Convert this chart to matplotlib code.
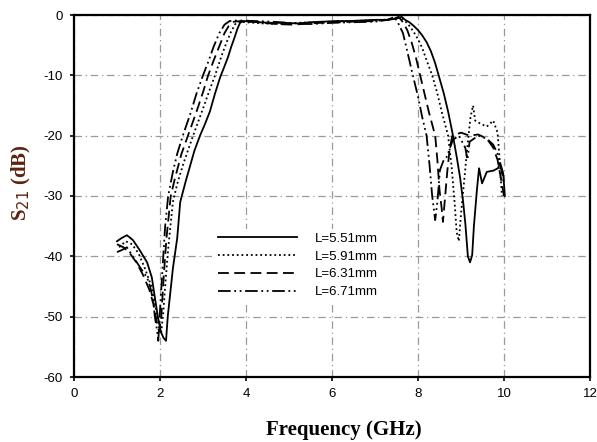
import numpy as np
import matplotlib
matplotlib.use("Agg")
import matplotlib.pyplot as plt

plt.rcParams["axes.unicode_minus"] = False

# S21 curves, one per stub length L
labels = ["L=5.51mm", "L=5.91mm", "L=6.31mm", "L=6.71mm"]

f_551 = [1.0, 1.1, 1.23, 1.37, 1.53, 1.7, 1.81, 1.88, 1.95, 2.02, 2.08, 2.14, 2.18, 2.24, 2.3,
         2.4, 2.47, 2.6, 2.7, 2.8, 2.93, 3.05, 3.16, 3.28, 3.4, 3.5, 3.58, 3.66, 3.74, 3.8, 3.86,
         3.95, 4.1, 4.3, 4.6, 4.9, 5.2, 5.5, 5.8, 6.1, 6.4, 6.7, 7.0, 7.3, 7.5, 7.62, 7.7, 7.8,
         7.9, 8.0, 8.1, 8.2, 8.3, 8.4, 8.5, 8.6, 8.7, 8.8, 8.9, 8.98, 9.05, 9.1, 9.16, 9.21, 9.26,
         9.3, 9.37, 9.42, 9.49, 9.6, 9.75, 9.86, 9.91, 9.98, 10.02]
s_551 = [-37.5, -37, -36.5, -37.3, -39, -41, -43.5, -46.8, -50, -52.5, -53.5, -54, -50, -46, -42,
         -37, -31, -27.5, -25, -22.5, -20, -18, -16, -13, -10.3, -8.5, -7, -5.2, -3.6, -2.3, -1.3,
         -1.0, -1.1, -1.2, -1.3, -1.3, -1.4, -1.2, -1.1, -1.0, -1.0, -0.9, -0.8, -0.8, -0.6, -0.3,
         -0.8, -1.2, -1.8, -2.5, -3.4, -4.5, -6, -8, -10.5, -13, -16, -19.5, -23.5, -27, -31,
         -34.5, -40, -41, -39.8, -35, -29, -25.4, -27.9, -26, -25.8, -25.4, -24.5, -26.2, -30]

f_591 = [1.05, 1.2, 1.35, 1.5, 1.65, 1.8, 1.9, 1.97, 2.03, 2.08, 2.13, 2.2, 2.3, 2.4, 2.55, 2.77,
         3.0, 3.15, 3.28, 3.42, 3.55, 3.65, 3.75, 3.85, 4.0, 4.4, 4.8, 5.2, 5.6, 6.0, 6.5, 7.0,
         7.4, 7.6, 7.7, 7.8, 7.9, 8.0, 8.1, 8.2, 8.33, 8.45, 8.55, 8.7, 8.78, 8.85, 8.9, 8.95,
         9.0, 9.08, 9.16, 9.22, 9.28, 9.33, 9.45, 9.6, 9.75, 9.85, 9.9, 9.95]
s_591 = [-38.5, -37.5, -38, -39.5, -42, -45, -48.5, -51, -52.5, -49, -44, -38, -31, -28, -24.5,
         -20, -15.5, -12.5, -10, -7, -4.5, -2.8, -1.5, -1.1, -1.2, -1.4, -1.5, -1.3, -1.2, -1.1,
         -1.0, -0.9, -0.7, -0.4, -1.0, -1.8, -2.8, -4, -5.5, -7.5, -10, -13, -16, -20, -25, -31,
         -36, -37.5, -33, -27, -21, -17, -15, -17.5, -18, -18.5, -17.5, -19.5, -24, -30]

f_631 = [1.0, 1.15, 1.3, 1.45, 1.6, 1.75, 1.85, 1.93, 1.98, 2.03, 2.08, 2.15, 2.25, 2.35, 2.5,
         2.65, 2.85, 3.0, 3.12, 3.25, 3.4, 3.5, 3.6, 3.72, 3.9, 4.3, 4.7, 5.1, 5.5, 6.0, 6.5,
         7.0, 7.4, 7.55, 7.65, 7.75, 7.85, 7.95, 8.05, 8.15, 8.25, 8.4, 8.45, 8.5, 8.55, 8.58,
         8.62, 8.68, 8.74, 8.8, 9.0, 9.2, 9.4, 9.6, 9.75, 9.85, 9.95, 10.0]
s_631 = [-38, -38.5, -39.5, -41, -43, -45.5, -48, -51, -52.5, -50, -44, -37, -30, -27, -23,
         -20, -16, -12.8, -10, -7.5, -4.8, -3, -1.8, -1.1, -1.0, -1.2, -1.5, -1.6, -1.4, -1.2,
         -1.1, -1.0, -0.7, -0.3, -1.2, -2.5, -4.5, -7, -10, -13, -16, -20, -24, -29, -32, -34.3,
         -31, -26, -22, -20, -19.5, -20, -19.8, -20.5, -22, -24, -28, -30]

f_671 = [1.0, 1.1, 1.23, 1.37, 1.58, 1.7, 1.77, 1.84, 1.88, 1.93, 1.96, 2.0, 2.05, 2.12, 2.19,
         2.3, 2.4, 2.53, 2.7, 2.85, 3.0, 3.12, 3.25, 3.38, 3.5, 3.62, 3.8, 4.2, 4.6, 5.0, 5.5,
         6.0, 6.5, 7.0, 7.3, 7.45, 7.55, 7.65, 7.75, 7.88, 8.0, 8.1, 8.2, 8.27, 8.33, 8.4, 8.45,
         8.51, 8.6, 8.67, 8.81, 8.95, 9.1, 9.15, 9.2, 9.4, 9.6, 9.75, 9.85, 9.95, 10.0]
s_671 = [-39.3, -39, -38.5, -40, -42.3, -43.5, -45, -47.3, -50, -52.2, -54, -49, -43, -35, -30,
         -26, -23, -20, -16.5, -13, -10, -7.8, -5.2, -3, -1.6, -1.0, -0.9, -1.0, -1.1, -1.3,
         -1.5, -1.3, -1.2, -1.1, -0.8, -0.3, -1.5, -3, -6, -10, -13.5, -17, -20, -25, -30, -34,
         -31, -25.7, -24, -23.5, -20.7, -20, -22, -24, -21, -20, -20.5, -21.5, -23, -26, -28]

freqs = [f_551, f_591, f_631, f_671]
s21 = [s_551, s_591, s_631, s_671]
styles = ["-", (0, (1, 1.6)), (0, (6, 3)), (0, (7, 2, 1, 2, 1, 2))]

fig = plt.figure(figsize=(5.97, 4.42), dpi=100)
ax = fig.add_axes([74 / 597, 1 - 377 / 442, 516 / 597, 362 / 442])

for f, s, ls, lab in zip(freqs, s21, styles, labels):
    ax.plot(f, s, color="black", linestyle=ls, linewidth=1.3, label=lab)

ax.set_xlim(0, 12)
ax.set_ylim(-60, 0)
ax.set_xticks(np.arange(0, 13, 2))
ax.set_yticks(np.arange(-60, 1, 10))
ax.grid(True, color="#9a9a9a", linestyle=(0, (6, 3, 1, 3)), linewidth=0.9)
ax.set_axisbelow(True)
for sp in ax.spines.values():
    sp.set_linewidth(1.6)
ax.tick_params(direction="out", length=3, width=1.2, pad=5, labelsize=9.5,
               labelfontfamily="Liberation Sans")

ax.set_xlabel("Frequency (GHz)", family="Liberation Serif", fontweight="bold", fontsize=15)
ax.xaxis.set_label_coords(0.523, -0.12)
ax.set_ylabel("S$_{21}$ (dB)", family="Liberation Serif", fontweight="bold", fontsize=15,
              color="#5c2410")
ax.yaxis.set_label_coords(-0.08, 0.537)

leg = ax.legend(loc="upper left", bbox_to_anchor=((207 - 74) / 516, (377 - 222) / 362),
                frameon=True, fancybox=False, edgecolor="none", facecolor="white",
                framealpha=1, handlelength=6.0, handletextpad=1.4, labelspacing=0.42,
                borderpad=0.3, prop={"family": "Liberation Sans", "size": 9.5})

fig.savefig("out.png", dpi=100)
